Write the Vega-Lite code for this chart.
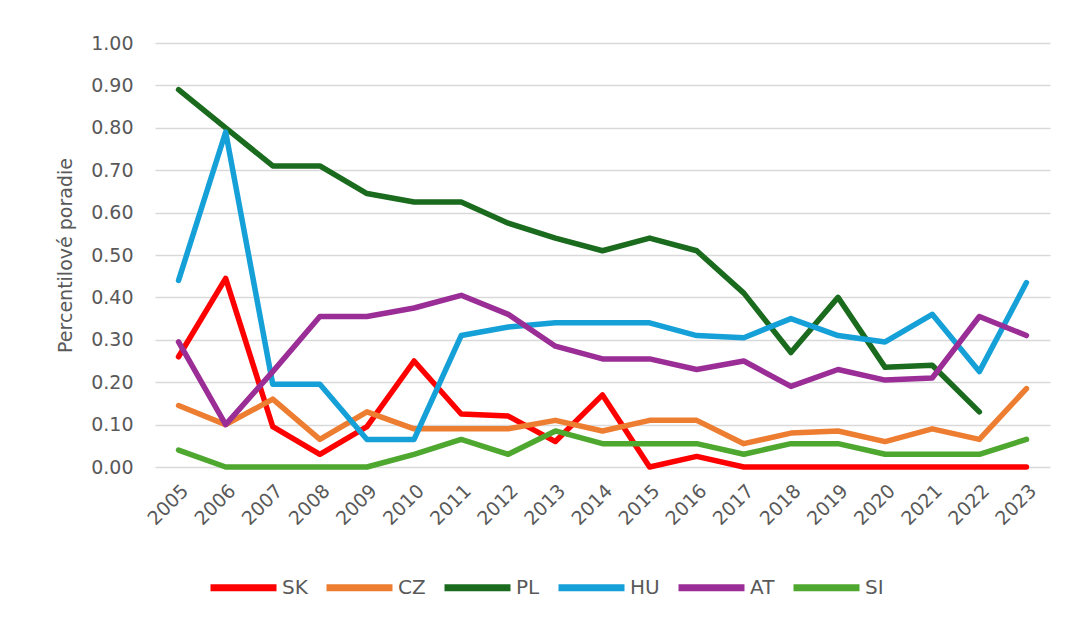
{
  "$schema": "https://vega.github.io/schema/vega-lite/v6.json",
  "autosize": {"type": "none"},
  "padding": {"left": 155, "top": 43, "right": 20, "bottom": 158},
  "width": 895,
  "height": 424,
  "background": "white",
  "config": {
    "view": {"stroke": null},
    "font": "DejaVu Sans"
  },
  "data": {
    "values": [
      {"year": "2005", "country": "SK", "value": 0.26},
      {"year": "2006", "country": "SK", "value": 0.445},
      {"year": "2007", "country": "SK", "value": 0.095},
      {"year": "2008", "country": "SK", "value": 0.03},
      {"year": "2009", "country": "SK", "value": 0.095},
      {"year": "2010", "country": "SK", "value": 0.25},
      {"year": "2011", "country": "SK", "value": 0.125},
      {"year": "2012", "country": "SK", "value": 0.12},
      {"year": "2013", "country": "SK", "value": 0.06},
      {"year": "2014", "country": "SK", "value": 0.17},
      {"year": "2015", "country": "SK", "value": 0.0},
      {"year": "2016", "country": "SK", "value": 0.025},
      {"year": "2017", "country": "SK", "value": 0.0},
      {"year": "2018", "country": "SK", "value": 0.0},
      {"year": "2019", "country": "SK", "value": 0.0},
      {"year": "2020", "country": "SK", "value": 0.0},
      {"year": "2021", "country": "SK", "value": 0.0},
      {"year": "2022", "country": "SK", "value": 0.0},
      {"year": "2023", "country": "SK", "value": 0.0},
      {"year": "2005", "country": "CZ", "value": 0.145},
      {"year": "2006", "country": "CZ", "value": 0.10},
      {"year": "2007", "country": "CZ", "value": 0.16},
      {"year": "2008", "country": "CZ", "value": 0.065},
      {"year": "2009", "country": "CZ", "value": 0.13},
      {"year": "2010", "country": "CZ", "value": 0.09},
      {"year": "2011", "country": "CZ", "value": 0.09},
      {"year": "2012", "country": "CZ", "value": 0.09},
      {"year": "2013", "country": "CZ", "value": 0.11},
      {"year": "2014", "country": "CZ", "value": 0.085},
      {"year": "2015", "country": "CZ", "value": 0.11},
      {"year": "2016", "country": "CZ", "value": 0.11},
      {"year": "2017", "country": "CZ", "value": 0.055},
      {"year": "2018", "country": "CZ", "value": 0.08},
      {"year": "2019", "country": "CZ", "value": 0.085},
      {"year": "2020", "country": "CZ", "value": 0.06},
      {"year": "2021", "country": "CZ", "value": 0.09},
      {"year": "2022", "country": "CZ", "value": 0.065},
      {"year": "2023", "country": "CZ", "value": 0.185},
      {"year": "2005", "country": "PL", "value": 0.89},
      {"year": "2006", "country": "PL", "value": 0.80},
      {"year": "2007", "country": "PL", "value": 0.71},
      {"year": "2008", "country": "PL", "value": 0.71},
      {"year": "2009", "country": "PL", "value": 0.645},
      {"year": "2010", "country": "PL", "value": 0.625},
      {"year": "2011", "country": "PL", "value": 0.625},
      {"year": "2012", "country": "PL", "value": 0.575},
      {"year": "2013", "country": "PL", "value": 0.54},
      {"year": "2014", "country": "PL", "value": 0.51},
      {"year": "2015", "country": "PL", "value": 0.54},
      {"year": "2016", "country": "PL", "value": 0.51},
      {"year": "2017", "country": "PL", "value": 0.41},
      {"year": "2018", "country": "PL", "value": 0.27},
      {"year": "2019", "country": "PL", "value": 0.40},
      {"year": "2020", "country": "PL", "value": 0.235},
      {"year": "2021", "country": "PL", "value": 0.24},
      {"year": "2022", "country": "PL", "value": 0.13},
      {"year": "2005", "country": "HU", "value": 0.44},
      {"year": "2006", "country": "HU", "value": 0.79},
      {"year": "2007", "country": "HU", "value": 0.195},
      {"year": "2008", "country": "HU", "value": 0.195},
      {"year": "2009", "country": "HU", "value": 0.065},
      {"year": "2010", "country": "HU", "value": 0.065},
      {"year": "2011", "country": "HU", "value": 0.31},
      {"year": "2012", "country": "HU", "value": 0.33},
      {"year": "2013", "country": "HU", "value": 0.34},
      {"year": "2014", "country": "HU", "value": 0.34},
      {"year": "2015", "country": "HU", "value": 0.34},
      {"year": "2016", "country": "HU", "value": 0.31},
      {"year": "2017", "country": "HU", "value": 0.305},
      {"year": "2018", "country": "HU", "value": 0.35},
      {"year": "2019", "country": "HU", "value": 0.31},
      {"year": "2020", "country": "HU", "value": 0.295},
      {"year": "2021", "country": "HU", "value": 0.36},
      {"year": "2022", "country": "HU", "value": 0.225},
      {"year": "2023", "country": "HU", "value": 0.435},
      {"year": "2005", "country": "AT", "value": 0.295},
      {"year": "2006", "country": "AT", "value": 0.10},
      {"year": "2007", "country": "AT", "value": 0.225},
      {"year": "2008", "country": "AT", "value": 0.355},
      {"year": "2009", "country": "AT", "value": 0.355},
      {"year": "2010", "country": "AT", "value": 0.375},
      {"year": "2011", "country": "AT", "value": 0.405},
      {"year": "2012", "country": "AT", "value": 0.36},
      {"year": "2013", "country": "AT", "value": 0.285},
      {"year": "2014", "country": "AT", "value": 0.255},
      {"year": "2015", "country": "AT", "value": 0.255},
      {"year": "2016", "country": "AT", "value": 0.23},
      {"year": "2017", "country": "AT", "value": 0.25},
      {"year": "2018", "country": "AT", "value": 0.19},
      {"year": "2019", "country": "AT", "value": 0.23},
      {"year": "2020", "country": "AT", "value": 0.205},
      {"year": "2021", "country": "AT", "value": 0.21},
      {"year": "2022", "country": "AT", "value": 0.355},
      {"year": "2023", "country": "AT", "value": 0.31},
      {"year": "2005", "country": "SI", "value": 0.04},
      {"year": "2006", "country": "SI", "value": 0.0},
      {"year": "2007", "country": "SI", "value": 0.0},
      {"year": "2008", "country": "SI", "value": 0.0},
      {"year": "2009", "country": "SI", "value": 0.0},
      {"year": "2010", "country": "SI", "value": 0.03},
      {"year": "2011", "country": "SI", "value": 0.065},
      {"year": "2012", "country": "SI", "value": 0.03},
      {"year": "2013", "country": "SI", "value": 0.085},
      {"year": "2014", "country": "SI", "value": 0.055},
      {"year": "2015", "country": "SI", "value": 0.055},
      {"year": "2016", "country": "SI", "value": 0.055},
      {"year": "2017", "country": "SI", "value": 0.03},
      {"year": "2018", "country": "SI", "value": 0.055},
      {"year": "2019", "country": "SI", "value": 0.055},
      {"year": "2020", "country": "SI", "value": 0.03},
      {"year": "2021", "country": "SI", "value": 0.03},
      {"year": "2022", "country": "SI", "value": 0.03},
      {"year": "2023", "country": "SI", "value": 0.065}
    ]
  },
  "mark": {"type": "line", "strokeWidth": 5.5, "strokeCap": "round", "strokeJoin": "round"},
  "encoding": {
    "x": {
      "field": "year",
      "type": "ordinal",
      "scale": {"type": "point", "padding": 0.5},
      "axis": {
        "title": null,
        "labelAngle": -45,
        "labelFontSize": 19,
        "labelColor": "#595959",
        "labelPadding": 14,
        "ticks": false,
        "domain": false,
        "grid": false
      }
    },
    "y": {
      "field": "value",
      "type": "quantitative",
      "scale": {"domain": [0, 1], "nice": false},
      "axis": {
        "title": "Percentilové poradie",
        "titleFontSize": 19,
        "titleFontWeight": "normal",
        "titleColor": "#595959",
        "titlePadding": 15,
        "values": [0, 0.1, 0.2, 0.3, 0.4, 0.5, 0.6, 0.7, 0.8, 0.9, 1.0],
        "format": ".2f",
        "labelFontSize": 19,
        "labelColor": "#595959",
        "labelPadding": 22,
        "ticks": false,
        "domain": false,
        "grid": true,
        "gridColor": "#D9D9D9",
        "gridWidth": 1.5
      }
    },
    "color": {
      "field": "country",
      "type": "nominal",
      "sort": ["SK", "CZ", "PL", "HU", "AT", "SI"],
      "scale": {
        "domain": ["SK", "CZ", "PL", "HU", "AT", "SI"],
        "range": ["#FF0000", "#ED7D31", "#1A6B1E", "#16A0D8", "#9B2D96", "#4EA72E"]
      },
      "legend": {
        "title": null,
        "orient": "none",
        "legendX": 52,
        "legendY": 508,
        "direction": "horizontal",
        "symbolType": "stroke",
        "symbolSize": 4356,
        "symbolStrokeWidth": 7,
        "labelFontSize": 20,
        "labelColor": "#595959",
        "labelOffset": 2,
        "columnPadding": 4
      }
    }
  }
}
